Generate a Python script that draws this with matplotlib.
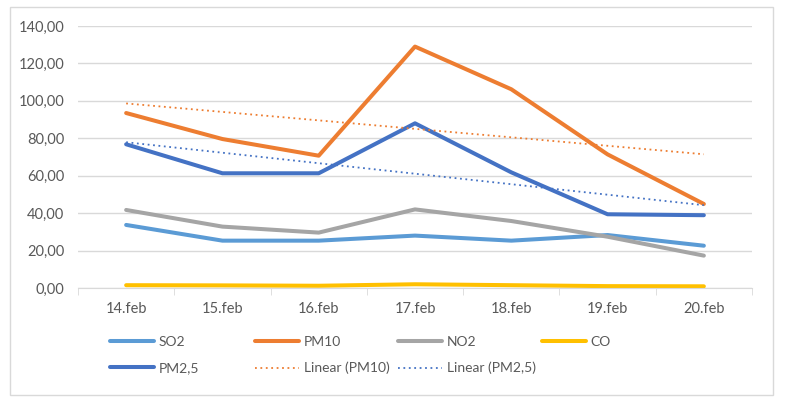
import numpy as np
import matplotlib.pyplot as plt
from matplotlib.patches import Rectangle
from matplotlib.ticker import FuncFormatter, FixedLocator

plt.rcParams['font.family'] = ['Lato', 'DejaVu Sans']

# Data
dates = ["14.feb", "15.feb", "16.feb", "17.feb", "18.feb", "19.feb", "20.feb"]
so2 = [33.7, 25.3, 25.3, 28.0, 25.3, 28.3, 22.6]
pm10 = [93.5, 79.6, 70.7, 129.0, 106.2, 71.4, 44.9]
no2 = [41.7, 32.8, 29.6, 42.0, 35.8, 27.4, 17.3]
co = [1.5, 1.4, 1.2, 2.0, 1.5, 1.0, 0.9]
pm25 = [76.8, 61.3, 61.3, 88.0, 61.8, 39.4, 38.9]

grey_text = "#595959"
grid_col = "#d9d9d9"

fig = plt.figure(figsize=(7.85, 4.01), dpi=100)
fig.patches.append(Rectangle((10 / 785, 6 / 401), 763 / 785, 388 / 401,
                             transform=fig.transFigure, fill=False,
                             edgecolor=grid_col, linewidth=1))
ax = fig.add_axes([78 / 785, 1 - 288 / 401, 674 / 785, 262 / 401])

x = np.arange(len(dates))
lw = 2.9
l_so2, = ax.plot(x, so2, color="#5B9BD5", lw=lw, label="SO2", solid_capstyle="round")
l_pm10, = ax.plot(x, pm10, color="#ED7D31", lw=lw, label="PM10", solid_capstyle="round")
l_no2, = ax.plot(x, no2, color="#A5A5A5", lw=lw, label="NO2", solid_capstyle="round")
l_co, = ax.plot(x, co, color="#FFC000", lw=lw, label="CO", solid_capstyle="round")
l_pm25, = ax.plot(x, pm25, color="#4472C4", lw=lw, label="PM2,5", solid_capstyle="round")

# Linear trendlines
k10, b10 = np.polyfit(x, pm10, 1)
k25, b25 = np.polyfit(x, pm25, 1)
t10, = ax.plot(x, k10 * x + b10, color="#ED7D31", lw=1.3, ls=(0, (1, 2)), label="Linear (PM10)")
t25, = ax.plot(x, k25 * x + b25, color="#4472C4", lw=1.3, ls=(0, (1, 2)), label="Linear (PM2,5)")

ax.set_xlim(-0.5, len(dates) - 0.5)
ax.set_ylim(0, 140)
ax.set_yticks(np.arange(0, 141, 20))
ax.yaxis.set_major_formatter(FuncFormatter(lambda v, p: f"{v:.2f}".replace(".", ",")))
ax.set_xticks(x)
ax.set_xticklabels(dates)
ax.xaxis.set_minor_locator(FixedLocator(np.arange(-0.5, len(dates), 1)))
ax.tick_params(axis="x", which="major", length=0, pad=10, labelsize=10.5, labelcolor=grey_text)
ax.tick_params(axis="x", which="minor", length=5, color=grid_col, direction="out")
ax.tick_params(axis="y", length=0, pad=10, labelsize=10.5, labelcolor=grey_text)
ax.grid(axis="y", color=grid_col, lw=1)
ax.set_axisbelow(True)
for s in ["top", "right", "left"]:
    ax.spines[s].set_visible(False)
ax.spines["bottom"].set_color(grid_col)

# Legend: one column at a time so columns are evenly spaced
columns = [[l_so2, l_pm25], [l_pm10, t10], [l_no2, t25], [l_co]]
col_x = [110, 255, 398, 542]
for hs, cx in zip(columns, col_x):
    fig.legend(handles=hs, labels=[h.get_label() for h in hs], ncol=1,
               loc="upper left", bbox_to_anchor=(cx / 785, 1 - 336 / 401),
               frameon=False, fontsize=10, labelcolor=grey_text,
               handlelength=3.2, handletextpad=0.3, labelspacing=1.0,
               borderpad=0, borderaxespad=0)

fig.savefig("out.png", dpi=100)
